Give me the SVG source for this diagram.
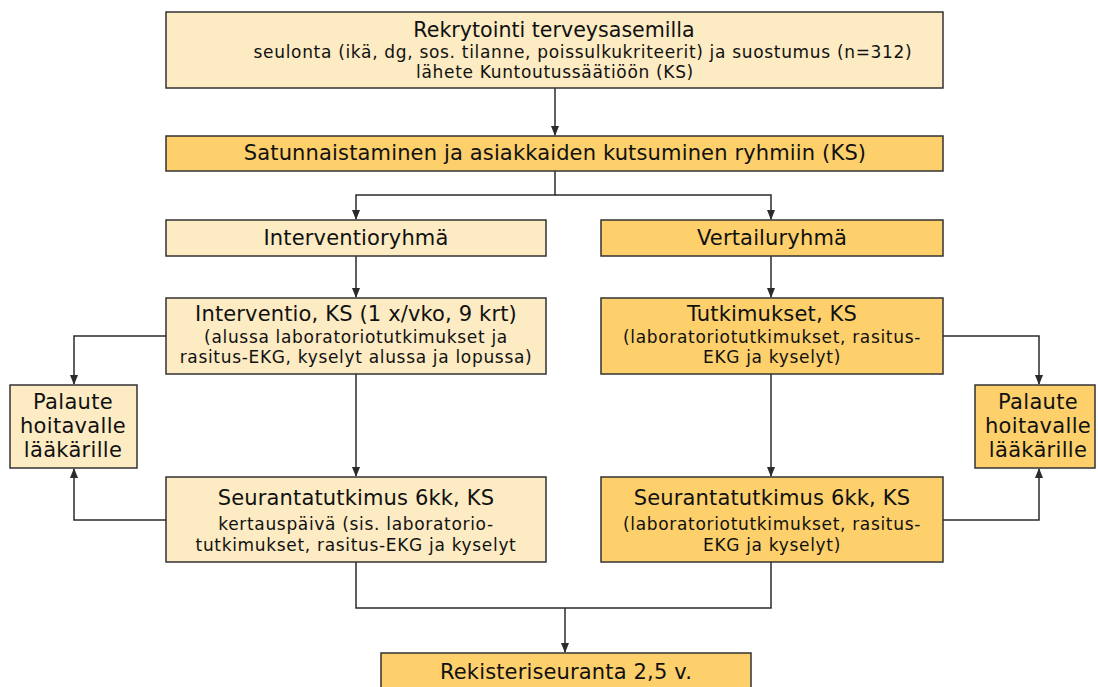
<svg xmlns="http://www.w3.org/2000/svg" width="1098" height="687" viewBox="0 0 1098 687">
<defs>
<marker id="arr" markerWidth="10" markerHeight="10" refX="9" refY="5" orient="auto" markerUnits="userSpaceOnUse">
<path d="M0,1 L10,5 L0,9 z" fill="#2b2b2b"/>
</marker>
<style>
.light{fill:#FCEBC3;stroke:#333;stroke-width:1.5}
.dark{fill:#FDD06C;stroke:#333;stroke-width:1.5}
text{font-family:"DejaVu Sans",sans-serif;fill:#111;text-anchor:middle}
.t{font-size:21px;letter-spacing:0.15px}
.t0{font-size:20.6px}
.p{font-size:21px;letter-spacing:0.3px}
.s{font-size:17px;letter-spacing:0.68px}
.conn path{fill:none;stroke:#2b2b2b;stroke-width:1.5}
</style>
</defs>
<rect width="1098" height="687" fill="#fff"/>
<g class="conn">
<path d="M555,88 V135" marker-end="url(#arr)"/>
<path d="M555,171 V195 H356 V219" marker-end="url(#arr)"/>
<path d="M555,195 H771 V219" marker-end="url(#arr)"/>
<path d="M356,256 V297" marker-end="url(#arr)"/>
<path d="M771,256 V297" marker-end="url(#arr)"/>
<path d="M356,374 V476" marker-end="url(#arr)"/>
<path d="M771,374 V476" marker-end="url(#arr)"/>
<path d="M166,336 H74 V384" marker-end="url(#arr)"/>
<path d="M943,336 H1039 V384" marker-end="url(#arr)"/>
<path d="M166,520 H74 V469" marker-end="url(#arr)"/>
<path d="M943,520 H1039 V469" marker-end="url(#arr)"/>
<path d="M356,562 V608 H771 V562"/>
<path d="M565,608 V652" marker-end="url(#arr)"/>
</g>
<g id="rekrytointi">
<rect class="light" x="166" y="12" width="777" height="76"/>
<text class="t0" x="554" y="37">Rekrytointi terveysasemilla</text>
<text class="s" x="583" y="58">seulonta (ikä, dg, sos. tilanne, poissulkukriteerit) ja suostumus (n=312)</text>
<text class="s" x="555" y="78">lähete Kuntoutussäätiöön (KS)</text>
</g>
<g id="satunnaistaminen">
<rect class="dark" x="166" y="136" width="777" height="35"/>
<text class="t" x="555" y="160">Satunnaistaminen ja asiakkaiden kutsuminen ryhmiin (KS)</text>
</g>
<g id="interventioryhma">
<rect class="light" x="166" y="220" width="380" height="36"/>
<text class="t" x="356" y="245">Interventioryhmä</text>
</g>
<g id="vertailuryhma">
<rect class="dark" x="601" y="220" width="342" height="36"/>
<text class="t" x="772" y="245">Vertailuryhmä</text>
</g>
<g id="interventio">
<rect class="light" x="166" y="298" width="380" height="76"/>
<text class="t" x="356" y="321">Interventio, KS (1 x/vko, 9 krt)</text>
<text class="s" x="356" y="343">(alussa laboratoriotutkimukset ja</text>
<text class="s" x="356" y="363">rasitus-EKG, kyselyt alussa ja lopussa)</text>
</g>
<g id="tutkimukset">
<rect class="dark" x="601" y="298" width="342" height="76"/>
<text class="t" x="772" y="321">Tutkimukset, KS</text>
<text class="s" x="772" y="343">(laboratoriotutkimukset, rasitus-</text>
<text class="s" x="772" y="363">EKG ja kyselyt)</text>
</g>
<g id="palaute-left">
<rect class="light" x="10" y="385" width="127" height="83"/>
<text class="p" x="73" y="409">Palaute</text>
<text class="p" x="73" y="433">hoitavalle</text>
<text class="p" x="73" y="457">lääkärille</text>
</g>
<g id="palaute-right">
<rect class="dark" x="975" y="385" width="120" height="83"/>
<text class="p" x="1038" y="409">Palaute</text>
<text class="p" x="1038" y="433">hoitavalle</text>
<text class="p" x="1038" y="457">lääkärille</text>
</g>
<g id="seuranta-left">
<rect class="light" x="166" y="477" width="380" height="85"/>
<text class="t" x="356" y="505">Seurantatutkimus 6kk, KS</text>
<text class="s" x="356" y="530">kertauspäivä (sis. laboratorio-</text>
<text class="s" x="356" y="551">tutkimukset, rasitus-EKG ja kyselyt</text>
</g>
<g id="seuranta-right">
<rect class="dark" x="601" y="477" width="342" height="85"/>
<text class="t" x="772" y="505">Seurantatutkimus 6kk, KS</text>
<text class="s" x="772" y="530">(laboratoriotutkimukset, rasitus-</text>
<text class="s" x="772" y="551">EKG ja kyselyt)</text>
</g>
<g id="rekisteriseuranta">
<rect class="dark" x="381" y="653" width="370" height="40"/>
<text class="t" x="566" y="679">Rekisteriseuranta 2,5 v.</text>
</g>
</svg>
